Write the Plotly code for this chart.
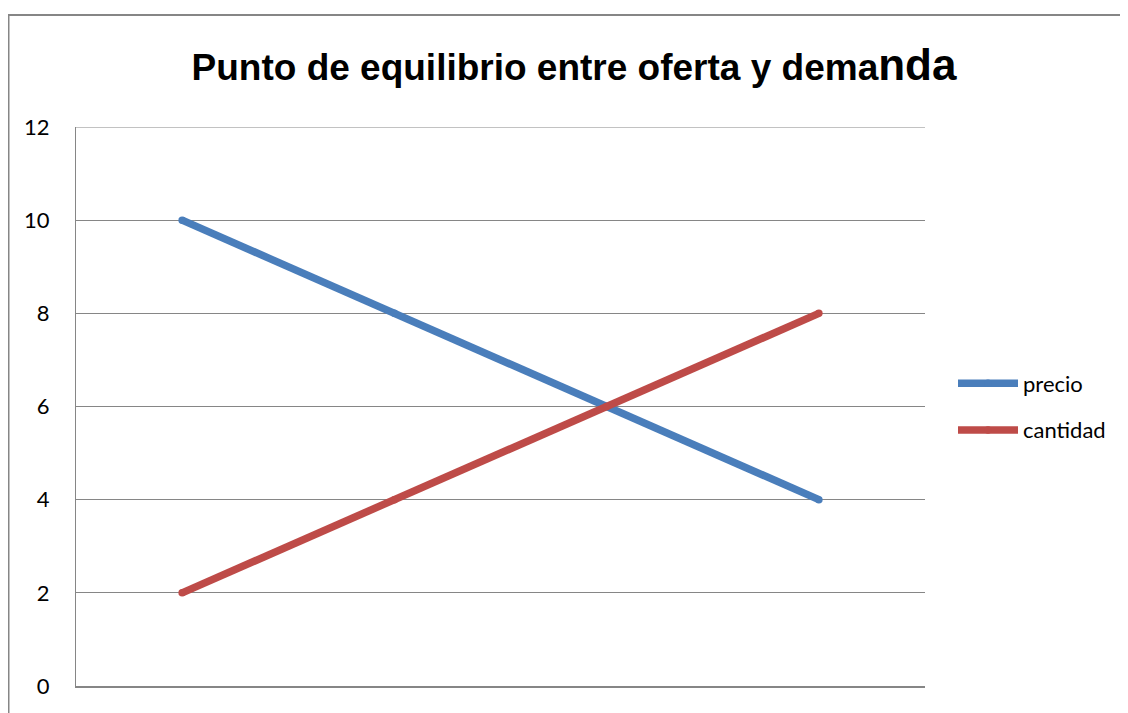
import plotly.graph_objects as go

categories = ["1", "2", "3", "4"]
precio = [10, 8, 6, 4]
cantidad = [2, 4, 6, 8]
y_ticks = [0, 2, 4, 6, 8, 10, 12]

# page is rendered with an 8px body margin; work in page pixels
OFF = 8
W, H = 1128 - OFF, 713 - OFF
L, R, T, B = 76 - OFF, 925 - OFF, 127 - OFF, 686 - OFF

def px_x(p):
    return (p - OFF - L) / (R - L)

def px_y(p):
    return (B - (p - OFF)) / (B - T)

fig = go.Figure()
fig.add_trace(go.Scatter(
    x=categories, y=precio, name="precio", mode="lines+markers",
    line=dict(color="#4A7EBB", width=7.5),
    marker=dict(color="#4A7EBB", size=7.5),
    legendgroup="a",
))
fig.add_trace(go.Scatter(
    x=categories, y=cantidad, name="cantidad", mode="lines+markers",
    line=dict(color="#BE4B48", width=7.5),
    marker=dict(color="#BE4B48", size=7.5),
    legendgroup="b",
))

fig.update_layout(
    width=W, height=H,
    margin=dict(l=L, r=W - R, t=T, b=H - B, pad=0),
    paper_bgcolor="white", plot_bgcolor="white",
    font=dict(family="Lato", size=22, color="black"),
    title=dict(
        text="<b>Punto de equilibrio entre oferta y dema<span style='font-size:44px'>nda</span></b>",
        font=dict(family="Liberation Sans", size=37, color="black"),
        x=(574 - OFF) / W, xanchor="center",
        y=1 - (67 - OFF) / H, yanchor="middle", yref="container",
    ),
    xaxis=dict(
        type="category", range=[-0.5, 3.5],
        showticklabels=False, ticks="", showgrid=False,
        showline=True, linecolor="#868686", linewidth=1.5,
        zeroline=False, fixedrange=True,
    ),
    yaxis=dict(
        range=[0, 12], tickvals=y_ticks, ticks="",
        showgrid=True, gridcolor="#868686", gridwidth=1,
        showline=True, linecolor="#868686", linewidth=1,
        zeroline=False, ticklabelstandoff=21,
        tickfont=dict(family="Lato", size=22),
    ),
    legend=dict(
        x=px_x(953), xanchor="left", y=px_y(407), yanchor="middle",
        font=dict(family="Lato", size=22),
        tracegroupgap=15, traceorder="grouped", itemwidth=60,
        bgcolor="rgba(0,0,0,0)",
    ),
    showlegend=True,
    shapes=[
        dict(
            type="rect", xref="paper", yref="paper",
            x0=px_x(8.5), x1=px_x(1140), y0=px_y(740), y1=px_y(15),
            line=dict(color="#868686", width=2), fillcolor="rgba(0,0,0,0)",
            layer="below",
        ),
        dict(
            type="line", xref="paper", yref="y",
            x0=0, x1=1, y0=y_ticks[-1], y1=y_ticks[-1],
            line=dict(color="#868686", width=1), layer="below",
        ),
    ],
)

fig.write_html("out.html")
